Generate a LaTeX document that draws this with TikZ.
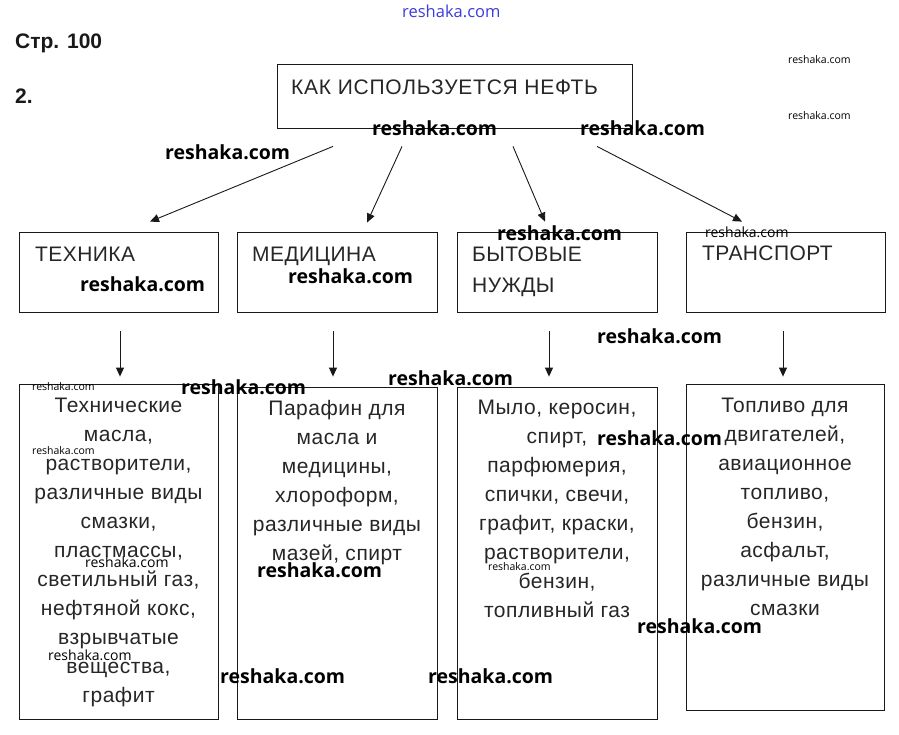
\documentclass[tikz,border=0pt]{standalone}
\usepackage{fontspec}
\setmainfont{Liberation Sans}
\newfontfamily\wmfont{Open Sans}
\usetikzlibrary{arrows.meta}
\begin{document}
\begin{tikzpicture}[x=1pt,y=-1pt,
  box/.style={draw=black!90, line width=0.8pt, inner sep=0pt},
  arr/.style={draw=black!90, line width=0.9pt, -{Triangle[length=9pt,width=8pt]}},
  hdr/.style={font=\fontsize{21}{29}\selectfont\addfontfeatures{LetterSpace=2}, text=black!85, inner sep=0pt, anchor=base west},
  ttl/.style={font=\fontsize{21}{29}\selectfont\addfontfeatures{LetterSpace=3.6}, text=black!85, inner sep=0pt, anchor=base west},
  hdrml/.style={font=\fontsize{21}{31}\selectfont\addfontfeatures{LetterSpace=2}, text=black!85, inner sep=0pt, anchor=north west, align=left},
  lst/.style={font=\fontsize{21}{29}\selectfont\addfontfeatures{LetterSpace=2.5}, text=black!85, inner sep=0pt, anchor=north, align=center},
  pg/.style={font=\bfseries\fontsize{21}{25}\selectfont, text=black!90, inner sep=0pt, anchor=base west},
  wmbig/.style={font=\wmfont\bfseries\fontsize{19.5}{22}\selectfont, inner sep=0pt, anchor=base west},
  wmmid/.style={font=\wmfont\fontsize{14}{16}\selectfont, inner sep=0pt, anchor=base west},
  wmsmall/.style={font=\wmfont\fontsize{10.5}{12}\selectfont, inner sep=0pt, anchor=base west},
  wmblue/.style={font=\wmfont\fontsize{16.5}{18}\selectfont, text={rgb,255:red,60;green,60;blue,220}, inner sep=0pt, anchor=base west}
]
\useasboundingbox (0,0) rectangle (899,734);

% header
\node[pg] (page) at (15,48) {Стр. 100};
\node[pg] (num) at (15,103) {2.};

% boxes
\node[box, minimum width=355pt, minimum height=64pt] (top) at (454.5,96) {};
\node[box, minimum width=199pt, minimum height=80pt] (tech) at (118.5,272) {};
\node[box, minimum width=200pt, minimum height=80pt] (med) at (337,272) {};
\node[box, minimum width=200pt, minimum height=80pt] (byt) at (557,272) {};
\node[box, minimum width=199pt, minimum height=80pt] (tra) at (785.5,272) {};
\node[box, minimum width=199pt, minimum height=335pt] (r1) at (118.5,551.5) {};
\node[box, minimum width=200pt, minimum height=332pt] (r2) at (337,553) {};
\node[box, minimum width=200pt, minimum height=332pt] (r3) at (557,553) {};
\node[box, minimum width=198pt, minimum height=326pt] (r4) at (785,547) {};

% texts
\node[ttl] (toptxt) at (291,94) {КАК ИСПОЛЬЗУЕТСЯ НЕФТЬ};
\node[hdr] (techtxt) at (35,261) {ТЕХНИКА};
\node[hdr] (medtxt) at (252,261) {МЕДИЦИНА};
\node[hdrml] (byttxt) at (472,247) {БЫТОВЫЕ\\НУЖДЫ};
\node[hdr] (tratxt) at (702,260) {ТРАНСПОРТ};

\node[lst] (r1txt) at ([yshift=-14pt]r1.north) {Технические\\масла,\\растворители,\\различные виды\\смазки,\\пластмассы,\\светильный газ,\\нефтяной кокс,\\взрывчатые\\вещества,\\графит};
\node[lst] (r2txt) at ([yshift=-13pt]r2.north) {Парафин для\\масла и\\медицины,\\хлороформ,\\различные виды\\мазей, спирт};
\node[lst] (r3txt) at ([yshift=-13pt]r3.north) {Мыло, керосин,\\спирт,\\парфюмерия,\\спички, свечи,\\графит, краски,\\растворители,\\бензин,\\топливный газ};
\node[lst] (r4txt) at ([yshift=-14pt]r4.north) {Топливо для\\двигателей,\\авиационное\\топливо,\\бензин,\\асфальт,\\различные виды\\смазки};

% arrows from top box
\draw[arr] ([xshift=-121.5pt,yshift=-18pt]top.south) -- ([xshift=31.5pt,yshift=10pt]tech.north);
\draw[arr] ([xshift=-52.5pt,yshift=-18pt]top.south) -- ([xshift=30pt,yshift=9pt]med.north);
\draw[arr] ([xshift=58.5pt,yshift=-18pt]top.south) -- ([xshift=-12pt,yshift=10pt]byt.north);
\draw[arr] ([xshift=142.5pt,yshift=-18pt]top.south) -- ([xshift=-43.5pt,yshift=10pt]tra.north);

% vertical arrows
\draw[arr] ([xshift=1.5pt,yshift=-19pt]tech.south) -- ([xshift=1.5pt,yshift=7pt]r1.north);
\draw[arr] ([xshift=-4pt,yshift=-19pt]med.south) -- ([xshift=-4pt,yshift=10pt]r2.north);
\draw[arr] ([xshift=-8pt,yshift=-19pt]byt.south) -- ([xshift=-8pt,yshift=10pt]r3.north);
\draw[arr] ([xshift=-2.5pt,yshift=-19pt]tra.south) -- ([xshift=-2pt,yshift=7pt]r4.north);

% watermarks
\node[wmblue] (wm0) at (402,17) {reshaka.com};
\node[wmbig] (wm1) at (165,159) {reshaka.com};
\node[wmbig] (wm2) at (372,135) {reshaka.com};
\node[wmbig] (wm3) at (580,135) {reshaka.com};
\node[wmbig] (wm4) at (497,240) {reshaka.com};
\node[wmbig] (wm5) at (80,291) {reshaka.com};
\node[wmbig] (wm6) at (288,283) {reshaka.com};
\node[wmbig] (wm7) at (597,343) {reshaka.com};
\node[wmbig] (wm8) at (181,394) {reshaka.com};
\node[wmbig] (wm9) at (388,385) {reshaka.com};
\node[wmbig] (wm10) at (597,445) {reshaka.com};
\node[wmbig] (wm11) at (257,577) {reshaka.com};
\node[wmbig] (wm12) at (637,633) {reshaka.com};
\node[wmbig] (wm13) at (220,683) {reshaka.com};
\node[wmbig] (wm14) at (428,683) {reshaka.com};
\node[wmmid] (wm15) at (705,237) {reshaka.com};
\node[wmmid] (wm16) at (85,567) {reshaka.com};
\node[wmmid] (wm17) at (48,660) {reshaka.com};
\node[wmsmall] (wm18) at (788,63) {reshaka.com};
\node[wmsmall] (wm19) at (788,119) {reshaka.com};
\node[wmsmall] (wm20) at (32,390) {reshaka.com};
\node[wmsmall] (wm21) at (32,454) {reshaka.com};
\node[wmsmall] (wm22) at (488,570) {reshaka.com};
\end{tikzpicture}
\end{document}
